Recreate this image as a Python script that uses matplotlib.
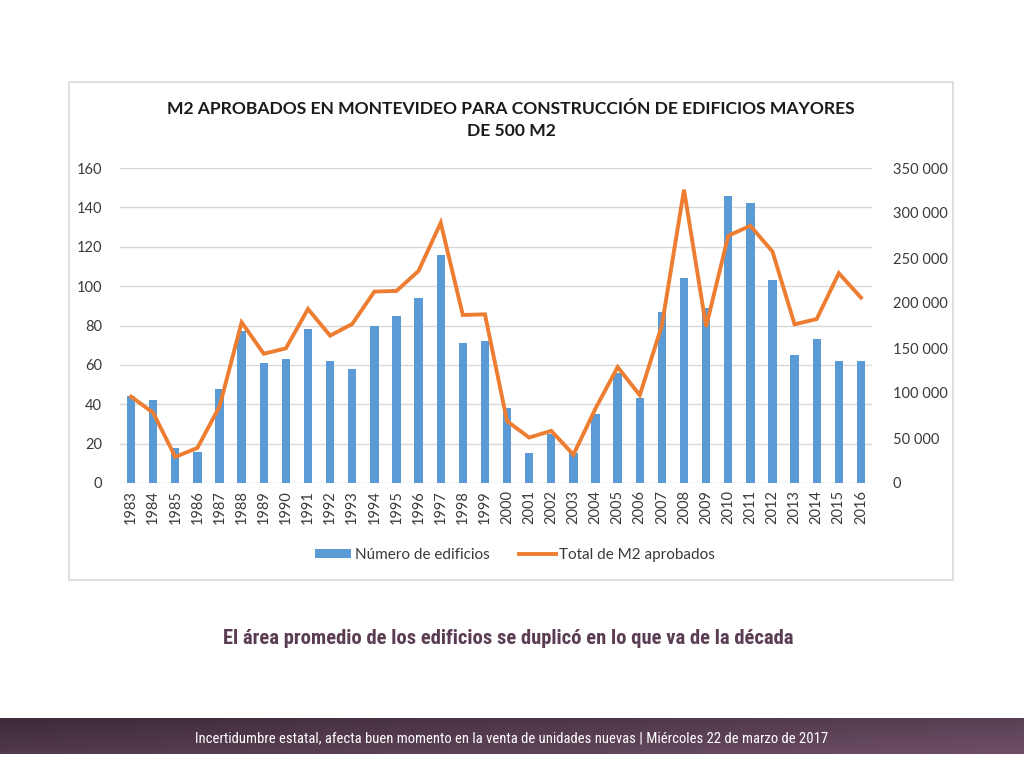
import numpy as np
import matplotlib.pyplot as plt
from matplotlib.patches import Rectangle, Patch
from matplotlib.lines import Line2D

plt.rcParams['font.family'] = ['Lato', 'DejaVu Sans']

years = [str(y) for y in range(1983, 2017)]
edificios = [44, 42, 18, 16, 48, 77, 61, 63, 78, 62, 58, 80, 85, 94, 116, 71, 72,
             38, 15, 25, 15, 35, 56, 43, 87, 104, 89, 146, 142, 103, 65, 73, 62, 62]
m2 = [96000, 78000, 29000, 39000, 85000, 178500, 143600, 149600, 193400, 163700,
      176700, 212700, 213400, 235700, 289100, 186700, 187400,
      68700, 50500, 57900, 31500, 82800, 128800, 97600, 175000, 325900, 173700,
      274700, 285800, 257200, 176300, 182200, 233100, 206000]

left_ticks = [0, 20, 40, 60, 80, 100, 120, 140, 160]
right_ticks = [0, 50000, 100000, 150000, 200000, 250000, 300000, 350000]

narrow = ['Roboto Condensed', 'Archivo Narrow', 'Barlow Semi Condensed',
          'Liberation Sans Narrow', 'DejaVu Sans']

W, H = 1024, 768
fig = plt.figure(figsize=(W / 100, H / 100), dpi=100)
fig.patch.set_facecolor('white')

def box(x0, y0, x1, y1):
    return [x0 / W, 1 - y1 / H, (x1 - x0) / W, (y1 - y0) / H]

def fit_width(t, target):
    # ajusta el tamaño de letra para que el texto ocupe el ancho del original
    r = fig.canvas.get_renderer()
    w = t.get_window_extent(r).width
    t.set_fontsize(t.get_fontsize() * target / w)

# caja del gráfico
fig.patches.append(Rectangle((69 / W, 1 - 580 / H), (953 - 69) / W, (580 - 82) / H,
                             transform=fig.transFigure, facecolor='none',
                             edgecolor='#d9d9d9', lw=1.2, zorder=-1))

ax = fig.add_axes(box(120, 168, 872, 483))
x = np.arange(len(years))
ax.bar(x, edificios, width=0.38, color='#5b9bd5', zorder=2)
ax.set_xlim(-0.5, len(years) - 0.5)
ax.set_ylim(0, 160)
ax.set_yticks(left_ticks)
ax.set_xticks(x)
ax.set_xticklabels(years, rotation=90)
ax.grid(axis='y', color='#d9d9d9', lw=1, zorder=0)
ax.set_axisbelow(True)
for s in ax.spines.values():
    s.set_visible(False)
ax.tick_params(axis='both', length=0, labelsize=10.5, colors='#3a3a3a')
ax.tick_params(axis='y', pad=13)
ax.tick_params(axis='x', pad=5)

ax2 = ax.twinx()
ax2.plot(x, m2, color='#ed7d31', lw=2.8, zorder=3, solid_joinstyle='miter')
ax2.set_ylim(0, 350000)
ax2.set_yticks(right_ticks)
ax2.set_yticklabels([f'{v:,}'.replace(',', ' ') for v in right_ticks])
for s in ax2.spines.values():
    s.set_visible(False)
ax2.tick_params(axis='y', length=0, labelsize=10.5, colors='#3a3a3a', pad=15)

title = fig.text(511 / W, 1 - 120 / H,
                 'M2 APROBADOS EN MONTEVIDEO PARA CONSTRUCCIÓN DE EDIFICIOS MAYORES\nDE 500 M2',
                 ha='center', va='center', fontsize=12, fontweight='bold', color='#1a1a1a',
                 linespacing=1.5)
fit_width(title, 688)

handles = [Patch(facecolor='#5b9bd5'), Line2D([], [], color='#ed7d31', lw=2.8)]
fig.legend(handles, ['Número de edificios', 'Total de M2 aprobados'],
           loc='center', bbox_to_anchor=(515 / W, 1 - 555 / H), ncol=2, frameon=False,
           fontsize=11, handlelength=2.4, handleheight=0.55, columnspacing=1.9,
           handletextpad=0.25, labelcolor='#3a3a3a')

sub = fig.text(508 / W, 1 - 638 / H,
               'El área promedio de los edificios se duplicó en lo que va de la década',
               ha='center', va='center', fontsize=14, fontweight='bold', color='#5a3d52',
               family=narrow)
fit_width(sub, 573)

# banda inferior con degradado
band = fig.add_axes(box(0, 718, 1024, 754))
gx = np.linspace(0, 1, 256)
gy = np.linspace(0, 1, 16)
g = 0.6 * gx[None, :] + 0.4 * gy[:, None]
c0 = np.array([0x3e, 0x2a, 0x39]) / 255
c1 = np.array([0x6e, 0x4f, 0x66]) / 255
img = c0[None, None, :] + g[:, :, None] * (c1 - c0)[None, None, :]
band.imshow(img, aspect='auto', extent=(0, 1, 0, 1), origin='upper')
band.set_axis_off()
foot = band.text(0.5, 0.45,
                 'Incertidumbre estatal, afecta buen momento en la venta de unidades nuevas | Miércoles 22 de marzo de 2017',
                 ha='center', va='center', fontsize=11, color='white',
                 family=narrow, transform=band.transAxes)
fit_width(foot, 630)

fig.savefig('out.png', dpi=100)
